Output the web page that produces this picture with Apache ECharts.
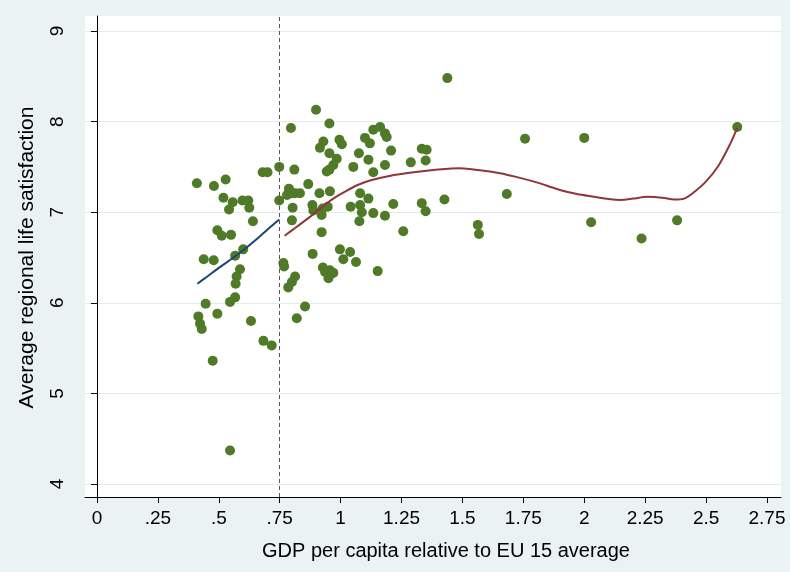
<!DOCTYPE html>
<html>
<head>
<meta charset="utf-8">
<script src="https://cdn.jsdelivr.net/npm/echarts@6/dist/echarts.min.js"></script>
<style>
  html, body { margin: 0; padding: 0; background: #eaf2f3; }
  #chart { width: 790px; height: 572px; }
</style>
</head>
<body>
<div id="chart"></div>
<script>
// Regions: GDP per capita (relative to EU-15 average) vs. average life satisfaction
const gdpRelative = [
  0.410, 0.480, 0.528, 0.519, 0.557, 0.542, 0.597, 0.621, 0.625, 0.640,
  0.680, 0.700, 0.748, 0.748, 0.494, 0.512, 0.550, 0.438, 0.479, 0.567,
  0.600, 0.587, 0.573, 0.569, 0.446, 0.494, 0.416, 0.423, 0.430, 0.546,
  0.567, 0.632, 0.683, 0.717, 0.475, 0.546,
  0.765, 0.768, 0.813, 0.800, 0.785, 0.854, 0.820,
  0.885, 0.922, 0.927, 0.936, 0.956, 0.950, 0.970,
  0.997, 1.039, 1.011, 1.063, 1.152,
  0.800, 0.803, 0.780, 0.788, 0.800, 0.813, 0.833,
  0.810, 0.867, 0.884, 0.888, 0.913, 0.926, 0.922, 0.947, 0.956,
  0.899, 0.796, 0.954, 0.929, 0.915, 0.995, 1.005, 0.954, 0.984, 0.970, 0.954, 0.943,
  1.052, 1.075, 1.041, 1.080, 1.077,
  1.134, 1.162, 1.182, 1.189, 1.100, 1.120, 1.207, 1.114, 1.182, 1.134,
  1.080, 1.114, 1.087, 1.134, 1.182, 1.216,
  1.333, 1.353, 1.349, 1.288, 1.333, 1.349, 1.426, 1.257,
  1.438, 1.757, 2.000, 2.628, 1.682, 1.563, 1.568, 2.028, 2.235, 2.381
];
const lifeSatisfaction = [
  7.32, 7.29, 7.36, 7.16, 7.11, 7.03, 7.13, 7.13, 7.05, 6.90,
  7.44, 7.44, 7.50, 7.13, 6.80, 6.74, 6.75, 6.48, 6.47, 6.52,
  6.59, 6.37, 6.29, 6.21, 5.99, 5.88, 5.85, 5.77, 5.71, 6.01,
  6.06, 5.80, 5.58, 5.53, 5.36, 4.37,
  6.44, 6.40, 6.29, 6.23, 6.17, 5.96, 5.83,
  6.54, 6.78, 6.39, 6.34, 6.36, 6.27, 6.33,
  6.59, 6.56, 6.48, 6.45, 6.35,
  6.91, 7.05, 7.19, 7.26, 7.21, 7.21, 7.21,
  7.47, 7.31, 7.08, 7.02, 7.21, 7.04, 6.97, 7.06, 7.23,
  8.13, 7.93, 7.98, 7.78, 7.71, 7.80, 7.75, 7.65, 7.59, 7.52, 7.47, 7.45,
  7.50, 7.65, 7.06, 7.08, 6.90,
  7.91, 7.94, 7.87, 7.83, 7.82, 7.76, 7.68, 7.58, 7.52, 7.44,
  7.21, 7.15, 7.00, 6.99, 6.96, 7.09,
  7.70, 7.69, 7.57, 7.55, 7.10, 7.01, 7.14, 6.79,
  8.48, 7.81, 7.82, 7.94, 7.20, 6.86, 6.76, 6.89, 6.71, 6.91
];

// Smoothed fit below the 75% threshold
const fitLowX = [0.412, 0.45, 0.50, 0.55, 0.60, 0.65, 0.70, 0.748];
const fitLowY = [6.21, 6.285, 6.385, 6.48, 6.58, 6.69, 6.81, 6.92];

// Smoothed fit above the 75% threshold
const fitHighX = [0.77, 0.82, 0.87, 0.92, 0.97, 1.02, 1.07, 1.12, 1.20, 1.30, 1.40, 1.49,
  1.58, 1.654, 1.72, 1.79, 1.85, 1.90, 1.97, 2.04, 2.10, 2.15, 2.20, 2.26, 2.32, 2.37,
  2.41, 2.45, 2.50, 2.55, 2.60, 2.628];
const fitHighY = [6.74, 6.84, 6.94, 7.05, 7.15, 7.23, 7.30, 7.35, 7.40, 7.44, 7.47, 7.485,
  7.46, 7.43, 7.39, 7.34, 7.29, 7.245, 7.20, 7.17, 7.145, 7.135, 7.15, 7.17, 7.16, 7.14,
  7.15, 7.22, 7.34, 7.51, 7.76, 7.93];

const threshold = 0.75;
const xTicks = { min: 0, max: 2.75, step: 0.25 };
const yTicks = { min: 4, max: 9, step: 1 };

// Layout (pixels): outer plot region and the inner area spanned by the tick range
const plotBox = { left: 85, top: 16, right: 781, bottom: 497 };
const dataBox = { left: 97, top: 31, right: 767, bottom: 484 };

const pxPerX = (dataBox.right - dataBox.left) / (xTicks.max - xTicks.min);
const pxPerY = (dataBox.bottom - dataBox.top) / (yTicks.max - yTicks.min);
const outerX = [
  xTicks.min - (dataBox.left - plotBox.left) / pxPerX,
  xTicks.max + (plotBox.right - dataBox.right) / pxPerX
];
const outerY = [
  yTicks.min - (plotBox.bottom - dataBox.bottom) / pxPerY,
  yTicks.max + (dataBox.top - plotBox.top) / pxPerY
];

const zip = (a, b) => a.map((v, i) => [v, b[i]]);
const font = 'Liberation Sans, Arial, sans-serif';

const chart = echarts.init(document.getElementById('chart'), null, { renderer: 'canvas' });
chart.setOption({
  backgroundColor: '#eaf2f3',
  animation: false,
  grid: [
    { // white plot region with its axis lines
      left: plotBox.left, top: plotBox.top,
      width: plotBox.right - plotBox.left, height: plotBox.bottom - plotBox.top,
      show: true, backgroundColor: '#ffffff', borderWidth: 0
    },
    { // horizontal grid lines across the full plot width
      left: plotBox.left, top: dataBox.top,
      width: plotBox.right - plotBox.left, height: dataBox.bottom - dataBox.top
    },
    { // data area
      left: dataBox.left, top: dataBox.top,
      width: dataBox.right - dataBox.left, height: dataBox.bottom - dataBox.top
    }
  ],
  xAxis: [
    {
      gridIndex: 0, type: 'value', min: outerX[0], max: outerX[1],
      axisLine: { show: true, lineStyle: { color: '#000', width: 1 } },
      axisTick: { show: false }, axisLabel: { show: false }, splitLine: { show: false }
    },
    { gridIndex: 1, type: 'value', min: xTicks.min, max: xTicks.max, show: false },
    {
      gridIndex: 2, type: 'value', min: xTicks.min, max: xTicks.max, interval: xTicks.step,
      offset: plotBox.bottom - dataBox.bottom,
      axisLine: { show: false },
      axisTick: { show: true, length: 6, lineStyle: { color: '#000' } },
      axisLabel: {
        margin: 12, color: '#000', fontFamily: font, fontSize: 19,
        formatter: v => String(+v.toFixed(2)).replace(/^0\./, '.')
      },
      splitLine: { show: false },
      name: 'GDP per capita relative to EU 15 average',
      nameLocation: 'middle', nameGap: 44,
      nameTextStyle: { color: '#000', fontFamily: font, fontSize: 20, padding: [0, 0, 0, 28] }
    }
  ],
  yAxis: [
    {
      gridIndex: 0, type: 'value', min: outerY[0], max: outerY[1],
      axisLine: { show: true, lineStyle: { color: '#000', width: 1 } },
      axisTick: { show: false }, axisLabel: { show: false }, splitLine: { show: false }
    },
    {
      gridIndex: 1, type: 'value', min: yTicks.min, max: yTicks.max, interval: yTicks.step,
      axisLine: { show: false }, axisTick: { show: false }, axisLabel: { show: false },
      splitLine: { show: true, lineStyle: { color: '#e3ebee', width: 1 } }
    },
    {
      gridIndex: 2, type: 'value', min: yTicks.min, max: yTicks.max, interval: yTicks.step,
      offset: dataBox.left - plotBox.left,
      axisLine: { show: false },
      axisTick: { show: true, length: 6, lineStyle: { color: '#000' } },
      axisLabel: { rotate: 90, margin: 18, color: '#000', fontFamily: font, fontSize: 19 },
      splitLine: { show: false },
      name: 'Average regional life satisfaction',
      nameLocation: 'middle', nameGap: 47,
      nameTextStyle: { color: '#000', fontFamily: font, fontSize: 21 }
    }
  ],
  series: [
    { // threshold marker at 75% of the EU-15 average
      type: 'scatter', xAxisIndex: 0, yAxisIndex: 0, data: [], silent: true,
      markLine: {
        silent: true, symbol: ['none', 'none'], label: { show: false },
        lineStyle: { color: '#555', width: 1, type: [4, 3] },
        data: [{ xAxis: threshold }]
      }
    },
    {
      type: 'scatter', xAxisIndex: 2, yAxisIndex: 2,
      data: zip(gdpRelative, lifeSatisfaction),
      symbol: 'circle', symbolSize: 10,
      itemStyle: { color: '#4f7a27', opacity: 1 }
    },
    {
      type: 'line', xAxisIndex: 2, yAxisIndex: 2,
      data: zip(fitLowX, fitLowY), showSymbol: false, smooth: 0.3,
      lineStyle: { color: '#1a476f', width: 2 }
    },
    {
      type: 'line', xAxisIndex: 2, yAxisIndex: 2,
      data: zip(fitHighX, fitHighY), showSymbol: false, smooth: 0.3,
      lineStyle: { color: '#90353b', width: 2 }
    }
  ]
});
</script>
</body>
</html>
